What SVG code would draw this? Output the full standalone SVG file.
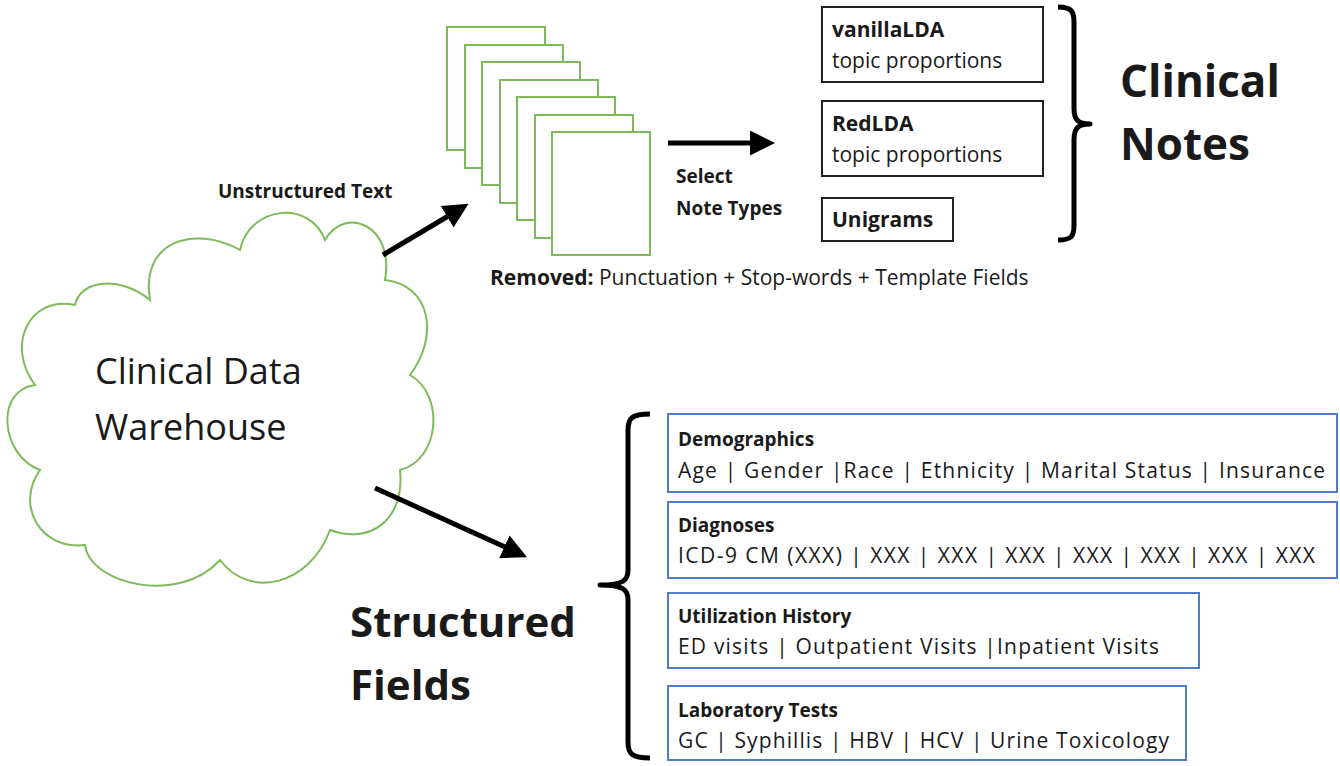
<svg xmlns="http://www.w3.org/2000/svg" width="1340" height="766" viewBox="0 0 1340 766">
<style>
text{font-family:"Open Sans",Lato,sans-serif;fill:#1a1a1a}
.b{font-weight:bold}
.pg{fill:#fff;stroke:#7dbb5a;stroke-width:2}
.bx{fill:#fff;stroke:#222;stroke-width:2}
.bl{fill:#fff;stroke:#4f7cc7;stroke-width:2}
.br{fill:none;stroke:#000;stroke-width:5;stroke-linejoin:round}
.ar{stroke:#000;stroke-width:5;marker-end:url(#ah)}
.t22{font-size:21px}
</style>
<defs><marker id="ah" markerWidth="5" markerHeight="5" refX="3" refY="2.5" orient="auto"><path d="M0,0L5,2.5L0,5z" fill="#000"/></marker></defs>
<rect width="1340" height="766" fill="#fff"/>
<g id="cloud">
<path d="M150,300 C140,240 195,225 240,250 C250,205 310,200 325,240 C345,205 395,225 385,280 C430,285 440,335 410,375 C445,395 440,460 400,470 C405,520 370,545 330,530 C310,585 250,600 220,560 C180,605 90,585 85,545 C40,550 15,505 40,470 C0,455 -5,390 35,385 C5,345 30,295 75,305 C80,280 120,275 150,300 Z" fill="#fff" stroke="#7dbb5a" stroke-width="2"/>
<text x="95" y="384" font-size="36">Clinical Data</text>
<text x="95" y="440" font-size="36">Warehouse</text>
</g>
<g id="pages">
<rect class="pg" x="447" y="27" width="98" height="123"/>
<rect class="pg" x="465" y="45" width="98" height="123"/>
<rect class="pg" x="482" y="62" width="98" height="123"/>
<rect class="pg" x="500" y="80" width="98" height="123"/>
<rect class="pg" x="517" y="97" width="98" height="123"/>
<rect class="pg" x="535" y="115" width="98" height="123"/>
<rect class="pg" x="552" y="132" width="98" height="123"/>
</g>
<g id="connectors">
<line class="ar" x1="383" y1="255" x2="460" y2="209"/>
<line class="ar" x1="375" y1="488" x2="518" y2="553"/>
<line class="ar" x1="668" y1="143" x2="765" y2="143"/>
</g>
<text class="b" x="218" y="198" font-size="19">Unstructured Text</text>
<text class="b" x="676" y="183" font-size="19">Select</text>
<text class="b" x="676" y="215" font-size="19">Note Types</text>
<text x="490" y="285" font-size="21"><tspan class="b">Removed:</tspan> Punctuation + Stop-words + Template Fields</text>
<g id="vanilla"><rect class="bx" x="822" y="7" width="221" height="75"/><text class="b t22" x="832" y="37">vanillaLDA</text><text class="t22" x="832" y="68">topic proportions</text></g>
<g id="redlda"><rect class="bx" x="822" y="101" width="221" height="75"/><text class="b t22" x="832" y="131">RedLDA</text><text class="t22" x="832" y="162">topic proportions</text></g>
<g id="unigrams"><rect class="bx" x="822" y="198" width="131" height="43"/><text class="b t22" x="832" y="227">Unigrams</text></g>
<path class="br" d="M1058,7 C1072,7 1074,12 1074,22 L1074,108 C1074,120 1078,124 1090,124 C1078,124 1074,128 1074,140 L1074,225 C1074,236 1072,240 1058,240"/>
<text class="b" x="1120" y="97" font-size="44">Clinical</text>
<text class="b" x="1120" y="160" font-size="44">Notes</text>
<path class="br" d="M650,414 C632,414 628,418 628,430 L628,570 C628,580 624,585 600,585 C624,585 628,590 628,600 L628,742 C628,754 632,758 650,758"/>
<text class="b" x="350" y="637" font-size="42">Structured</text>
<text class="b" x="350" y="700" font-size="42">Fields</text>
<g id="demo"><rect class="bl" x="668" y="414" width="669" height="78"/><text class="b" x="678" y="446" font-size="19">Demographics</text><text class="t22" x="678" y="478" textLength="647">Age | Gender |Race | Ethnicity | Marital Status | Insurance</text></g>
<g id="diag"><rect class="bl" x="668" y="502" width="669" height="76"/><text class="b" x="678" y="532" font-size="19">Diagnoses</text><text class="t22" x="678" y="563" textLength="637">ICD-9 CM (XXX) | XXX | XXX | XXX | XXX | XXX | XXX | XXX</text></g>
<g id="util"><rect class="bl" x="668" y="593" width="531" height="75"/><text class="b" x="678" y="623" font-size="19">Utilization History</text><text class="t22" x="678" y="654" textLength="481">ED visits | Outpatient Visits |Inpatient Visits</text></g>
<g id="lab"><rect class="bl" x="668" y="686" width="518" height="74"/><text class="b" x="678" y="717" font-size="19">Laboratory Tests</text><text class="t22" x="678" y="748" textLength="491">GC | Syphillis | HBV | HCV | Urine Toxicology</text></g>
</svg>
